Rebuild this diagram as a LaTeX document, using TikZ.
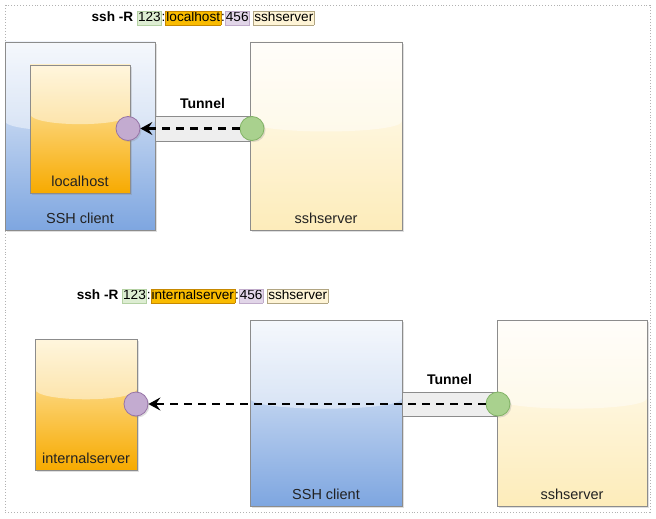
\documentclass[tikz,border=0pt]{standalone}
\usepackage{fontspec}
\setmainfont{Liberation Sans}
\usepackage{xcolor}
\usepackage{tikz}
\usetikzlibrary{arrows.meta}
\usetikzlibrary{shadows, calc}
\definecolor{boxgray}{HTML}{8C8C8C}
\definecolor{clientblue}{HTML}{7EA6E0}
\definecolor{clienttop}{HTML}{EEF3FB}
\definecolor{hostorange}{HTML}{F7AA00}
\definecolor{hosttop}{HTML}{FFEFC2}
\definecolor{servercream}{HTML}{FDECBA}
\definecolor{servertop}{HTML}{FFFDF6}
\definecolor{portpurple}{HTML}{C3ABD0}
\definecolor{portpurpleline}{HTML}{9673A6}
\definecolor{portgreen}{HTML}{A9D18E}
\definecolor{portgreenline}{HTML}{82B366}
\definecolor{bandgray}{HTML}{EEEEEE}
\definecolor{labeltext}{HTML}{222222}
\newcommand{\hlpart}[3]{{\setlength{\fboxsep}{0.6pt}\setlength{\fboxrule}{0.4pt}\fcolorbox{#1}{#2}{\vphantom{Ag}#3}}}

\tikzset{
  glass/.style={path picture={
    \fill[white, opacity=.45] (path picture bounding box.north west) -- (path picture bounding box.north east)
      -- ($(path picture bounding box.north east)!#1!(path picture bounding box.south east)$)
      .. controls +(0,14) and +(0,14) .. ($(path picture bounding box.north west)!#1!(path picture bounding box.south west)$)
      -- cycle;}},
  box/.style={draw=boxgray, line width=0.8pt, inner sep=0pt,
    drop shadow={shadow xshift=2pt, shadow yshift=-2pt, opacity=.25}},
  clientbox/.style={box, top color=clienttop, bottom color=clientblue, glass=0.42},
  hostbox/.style={box, top color=hosttop, bottom color=hostorange, glass=0.38},
  serverbox/.style={box, top color=servertop, bottom color=servercream, glass=0.42},
  boxlabel/.style={label={[above=3pt, text=labeltext]south:#1}},
  band/.style={draw=boxgray, line width=0.8pt, fill=bandgray, inner sep=0pt,
    label={[label distance=3pt, font=\fontsize{14}{16}\selectfont\bfseries]above:Tunnel}},
  port/.style={circle, minimum size=24pt, inner sep=0pt, line width=0.8pt,
    drop shadow={shadow xshift=1.5pt, shadow yshift=-1.5pt, opacity=.25}},
  inport/.style={port, fill=portpurple, draw=portpurpleline},
  outport/.style={port, fill=portgreen, draw=portgreenline},
  tunarrow/.style={line width=2.6pt, dash pattern=on 8pt off 6pt,
    -{Stealth[length=12pt, width=13pt, inset=4.5pt]}},
  command/.style={font=\fontsize{13.6}{16}\selectfont}
}

\begin{document}
\begin{tikzpicture}[x=1pt, y=-1pt, font=\fontsize{14.5}{17}\selectfont]
    \useasboundingbox (0,0) rectangle (656,519);
    \draw[gray!60, dotted, line width=0.9pt] (5,5) rectangle (650,512);

    % top: ssh -R 123:localhost:456 sshserver
    \node[command] (cmd1) at (203,18) {\textbf{ssh -R} \hlpart{portgreenline!60}{portgreen!40}{123}:\hlpart{hostorange!80!black}{hostorange!80!yellow}{localhost}:\hlpart{portpurpleline!60}{portpurple!50}{456} \hlpart{servercream!70!black}{servercream!60}{sshserver}};

    \node[clientbox, minimum width=150pt, minimum height=188pt, boxlabel=SSH client] (cli1) at (80,136) {};
    \node[hostbox, minimum width=100pt, minimum height=128pt, boxlabel=localhost] (loc1) at (80,129) {};
    \node[serverbox, minimum width=152pt, minimum height=188pt, boxlabel=sshserver] (srv1) at (326,136) {};
    \node[band, minimum width=95pt, minimum height=25pt] (tun1) at (202.5,128.5) {};
    \node[inport] (p1) at (128,128.5) {};
    \node[outport] (g1) at (252,128.5) {};
    \draw[tunarrow] (g1) -- (p1);

    % bottom: ssh -R 123:internalserver:456 sshserver
    \node[command] (cmd2) at (202.5,296) {\textbf{ssh -R} \hlpart{portgreenline!60}{portgreen!40}{123}:\hlpart{hostorange!80!black}{hostorange!80!yellow}{internalserver}:\hlpart{portpurpleline!60}{portpurple!50}{456} \hlpart{servercream!70!black}{servercream!60}{sshserver}};

    \node[hostbox, minimum width=102pt, minimum height=131pt, boxlabel=internalserver] (int2) at (86,404.5) {};
    \node[clientbox, minimum width=152pt, minimum height=186pt, boxlabel=SSH client] (cli2) at (326,413) {};
    \node[serverbox, minimum width=150pt, minimum height=186pt, boxlabel=sshserver] (srv2) at (572,413) {};
    \node[band, minimum width=95pt, minimum height=24pt] (tun2) at (449.5,404) {};
    \node[inport] (p2) at (136,404) {};
    \node[outport] (g2) at (498,404) {};
    \draw[tunarrow] (g2) -- (p2);
\end{tikzpicture}
\end{document}
